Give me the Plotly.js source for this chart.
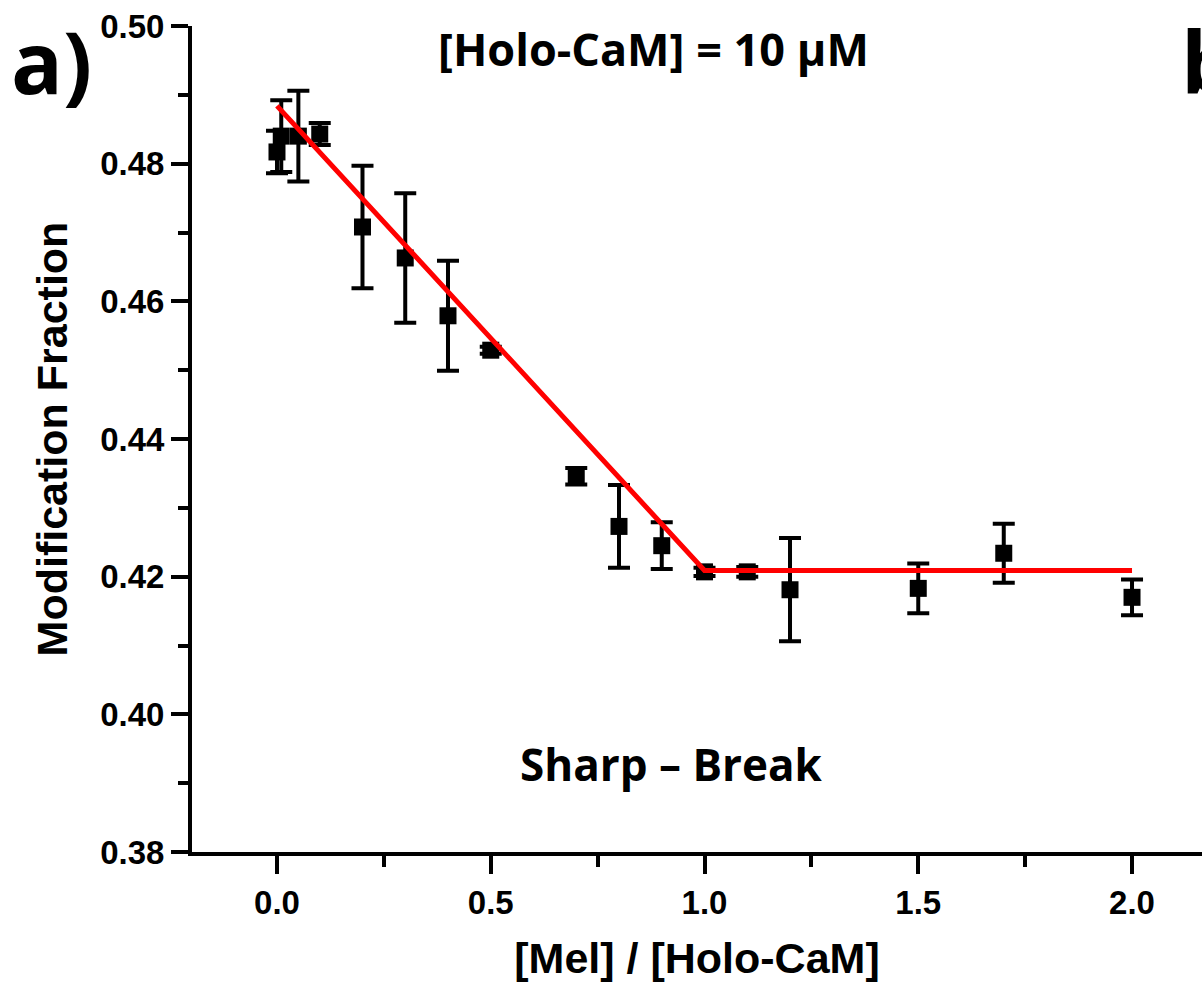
<!DOCTYPE html>
<html>
<head>
<meta charset="utf-8">
<script src="https://cdn.plot.ly/plotly-3.0.1.min.js"></script>
<style>html,body{margin:0;padding:0;background:#fff;}#chart{width:1202px;height:990px;}</style>
</head>
<body>
<div id="chart"></div>
<script>
// Data
const ratio = [0, 0.01, 0.05, 0.1, 0.2, 0.3, 0.4, 0.5, 0.7, 0.8, 0.9, 1.0, 1.1, 1.2, 1.5, 1.7, 2.0];
const modFraction = [0.4817, 0.4840, 0.4840, 0.4843, 0.4708, 0.4663, 0.4579, 0.4529, 0.4346, 0.4273, 0.4245, 0.4207, 0.4207, 0.4181, 0.4183, 0.4234, 0.4170];
const modError = [0.0031, 0.0052, 0.0066, 0.0016, 0.0089, 0.0094, 0.0080, 0.0005, 0.0012, 0.0060, 0.0034, 0.0006, 0.0007, 0.0075, 0.0036, 0.0043, 0.0026];
const fitX = [0, 1.0, 2.0];
const fitY = [0.4884, 0.4209, 0.4209];

const tickFont = {family: 'Liberation Sans, Arial, sans-serif', size: 33, color: '#000', weight: 'bold'};
const titleFont = {family: 'Liberation Sans, Arial, sans-serif', size: 43, color: '#000', weight: 'bold'};
const noteFont = {family: 'Open Sans, Lato, sans-serif', color: '#000', weight: 'bold'};

const traces = [
  {
    x: ratio, y: modFraction, type: 'scatter', mode: 'markers',
    marker: {symbol: 'square', size: 17, color: '#000'},
    error_y: {type: 'data', array: modError, visible: true, color: '#000', thickness: 4, width: 11},
    showlegend: false, hoverinfo: 'x+y'
  },
  {
    x: fitX, y: fitY, type: 'scatter', mode: 'lines',
    line: {color: '#ff0000', width: 5},
    showlegend: false
  }
];

const layout = {
  width: 1202, height: 990,
  margin: {l: 192, r: 0, t: 26, b: 138},
  paper_bgcolor: '#fff', plot_bgcolor: '#fff',
  xaxis: {
    range: [-0.1988, 2.1637], dtick: 0.5, tick0: 0, tickformat: '.1f',
    showgrid: false, zeroline: false, showline: true, linecolor: '#000', linewidth: 4,
    ticks: 'outside', ticklen: 18, tickwidth: 4, tickcolor: '#000',
    minor: {dtick: 0.25, tick0: 0, ticks: 'outside', ticklen: 11, tickwidth: 4, tickcolor: '#000', showgrid: false},
    tickfont: tickFont,
    title: {text: '[Mel] / [Holo-CaM]', font: titleFont, standoff: 24}
  },
  yaxis: {
    range: [0.38, 0.50], dtick: 0.02, tick0: 0.38, tickformat: '.2f',
    showgrid: false, zeroline: false, showline: true, linecolor: '#000', linewidth: 4,
    ticks: 'outside', ticklen: 17, tickwidth: 4, tickcolor: '#000',
    minor: {dtick: 0.01, tick0: 0.38, ticks: 'outside', ticklen: 10, tickwidth: 4, tickcolor: '#000', showgrid: false},
    tickfont: tickFont,
    title: {text: 'Modification Fraction', font: titleFont, standoff: 20}
  },
  annotations: [
    {text: 'a)', xref: 'paper', yref: 'paper', x: -0.139, y: 0.958, xanchor: 'center', yanchor: 'middle',
     showarrow: false, font: Object.assign({size: 86}, noteFont)},
    {text: 'b', xref: 'paper', yref: 'paper', x: 0.977, y: 0.958, xanchor: 'left', yanchor: 'middle',
     showarrow: false, font: Object.assign({size: 86}, noteFont)},
    {text: '[Holo-CaM] = 10 μM', xref: 'paper', yref: 'paper', x: 0.457, y: 0.973, xanchor: 'center', yanchor: 'middle',
     showarrow: false, font: Object.assign({size: 45}, noteFont)},
    {text: 'Sharp – Break', xref: 'paper', yref: 'paper', x: 0.475, y: 0.107, xanchor: 'center', yanchor: 'middle',
     showarrow: false, font: Object.assign({size: 44}, noteFont)}
  ]
};

Plotly.newPlot('chart', traces, layout, {displayModeBar: false, staticPlot: true});
</script>
</body>
</html>
